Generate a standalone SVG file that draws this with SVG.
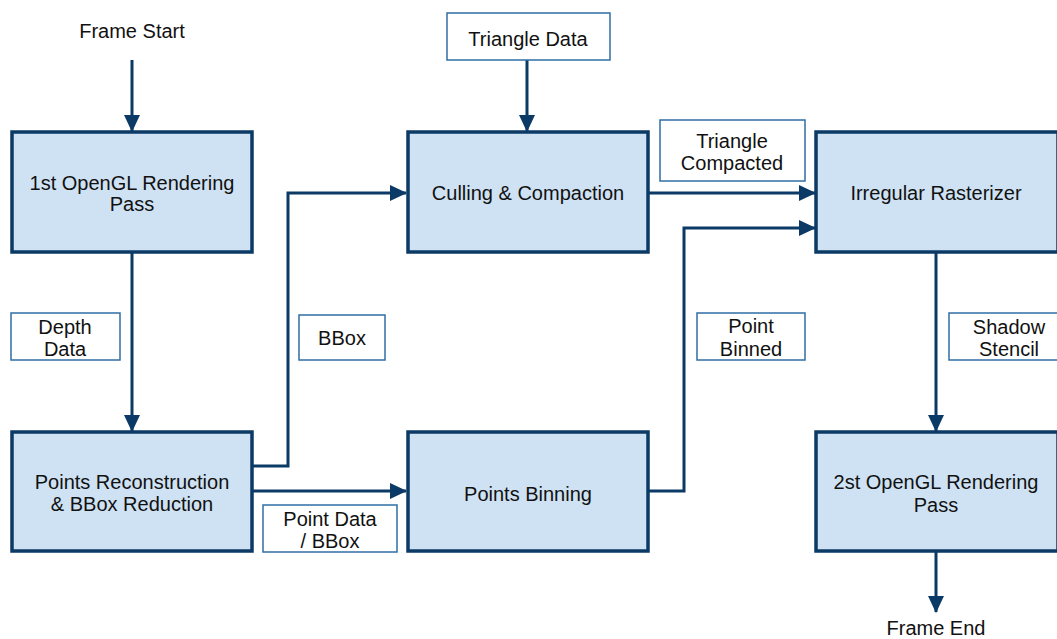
<svg xmlns="http://www.w3.org/2000/svg" width="1057" height="639" viewBox="0 0 1057 639">
  <style>
    .node rect { fill: #cfe2f3; stroke: #0b3a66; stroke-width: 3.5; }
    .lbl rect { fill: #ffffff; stroke: #2f6ea5; stroke-width: 1.5; }
    text { font-family: "Liberation Sans", Arial, sans-serif; font-size: 20px; fill: #111111; text-anchor: middle; }
    .conn path { fill: none; stroke: #0b3a66; stroke-width: 3; }
  </style>
  <defs>
    <marker id="arrow" markerUnits="userSpaceOnUse" markerWidth="18" markerHeight="16" refX="16" refY="8" orient="auto">
      <path d="M0,0 L17,8 L0,16 Z" fill="#0b3a66"/>
    </marker>
  </defs>
  <rect width="1057" height="639" fill="#ffffff"/>

  <!-- connectors -->
  <g class="conn" id="connectors">
    <path d="M132,60 V131" marker-end="url(#arrow)"/>
    <path d="M132,252 V431" marker-end="url(#arrow)"/>
    <path d="M527,60 V131" marker-end="url(#arrow)"/>
    <path d="M252,466 H288 V193 H406" marker-end="url(#arrow)"/>
    <path d="M252,491 H406" marker-end="url(#arrow)"/>
    <path d="M648,193 H815" marker-end="url(#arrow)"/>
    <path d="M648,491 H684 V228 H815" marker-end="url(#arrow)"/>
    <path d="M936,252 V431" marker-end="url(#arrow)"/>
    <path d="M936,551 V612" marker-end="url(#arrow)"/>
  </g>

  <!-- process nodes -->
  <g class="node" id="n-gl1">
    <rect x="12" y="132" width="240" height="120"/>
    <text x="132" y="190">1st OpenGL Rendering</text>
    <text x="132" y="211">Pass</text>
  </g>
  <g class="node" id="n-cull">
    <rect x="408" y="132" width="240" height="120"/>
    <text x="528" y="200">Culling &amp; Compaction</text>
  </g>
  <g class="node" id="n-raster">
    <rect x="816" y="132" width="242" height="120"/>
    <text x="936" y="200">Irregular Rasterizer</text>
  </g>
  <g class="node" id="n-recon">
    <rect x="12" y="432" width="240" height="119"/>
    <text x="132" y="489">Points Reconstruction</text>
    <text x="132" y="511">&amp; BBox Reduction</text>
  </g>
  <g class="node" id="n-bin">
    <rect x="408" y="432" width="240" height="119"/>
    <text x="528" y="501">Points Binning</text>
  </g>
  <g class="node" id="n-gl2">
    <rect x="816" y="432" width="242" height="119"/>
    <text x="936" y="489">2st OpenGL Rendering</text>
    <text x="936" y="512">Pass</text>
  </g>

  <!-- data labels -->
  <g class="lbl" id="l-tri">
    <rect x="447" y="13" width="163" height="47"/>
    <text x="528" y="46">Triangle Data</text>
  </g>
  <g class="lbl" id="l-tricomp">
    <rect x="660" y="120" width="145" height="61"/>
    <text x="732" y="148">Triangle</text>
    <text x="732" y="170">Compacted</text>
  </g>
  <g class="lbl" id="l-depth">
    <rect x="11" y="313" width="109" height="47"/>
    <text x="65" y="334">Depth</text>
    <text x="65" y="356">Data</text>
  </g>
  <g class="lbl" id="l-bbox">
    <rect x="299" y="315" width="86" height="45"/>
    <text x="342" y="345">BBox</text>
  </g>
  <g class="lbl" id="l-binned">
    <rect x="697" y="313" width="108" height="47"/>
    <text x="751" y="333">Point</text>
    <text x="751" y="356">Binned</text>
  </g>
  <g class="lbl" id="l-stencil">
    <rect x="949" y="313" width="110" height="47"/>
    <text x="1009" y="334">Shadow</text>
    <text x="1009" y="356">Stencil</text>
  </g>
  <g class="lbl" id="l-pointdata">
    <rect x="263" y="505" width="134" height="47"/>
    <text x="330" y="526">Point Data</text>
    <text x="330" y="548">/ BBox</text>
  </g>

  <!-- terminals -->
  <g id="t-start">
    <text x="132" y="38">Frame Start</text>
  </g>
  <g id="t-end">
    <text x="936" y="635">Frame End</text>
  </g>
</svg>
